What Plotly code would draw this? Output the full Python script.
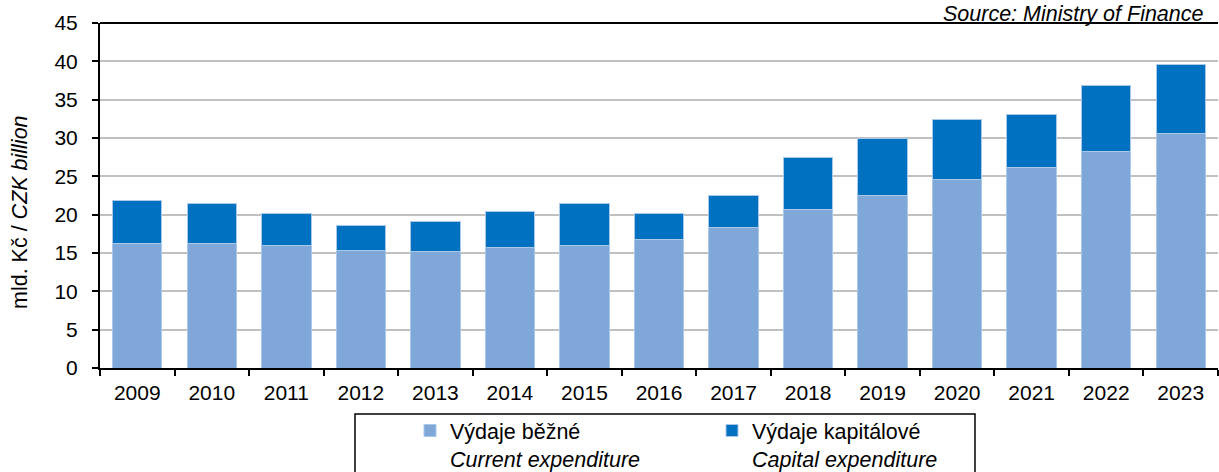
import plotly.graph_objects as go

years = ["2009", "2010", "2011", "2012", "2013", "2014", "2015", "2016",
         "2017", "2018", "2019", "2020", "2021", "2022", "2023"]
current_exp = [16.3, 16.3, 16.0, 15.3, 15.2, 15.7, 16.0, 16.8,
               18.35, 20.7, 22.5, 24.6, 26.2, 28.2, 30.6]
capital_exp = [5.6, 5.2, 4.2, 3.3, 3.9, 4.7, 5.5, 3.4,
               4.15, 6.8, 7.5, 7.8, 6.9, 8.6, 9.05]
y_ticks = [0, 5, 10, 15, 20, 25, 30, 35, 40, 45]

name_current = "Výdaje běžné<br><i>Current expenditure</i>"
name_capital = "Výdaje kapitálové<br><i>Capital expenditure</i>"

FONT = "Liberation Sans, Arial, sans-serif"
TXT = 21.5
TICK = 21

# plot area in pixels: x 100..1218, y 23..368
PL, PR, PT, PB = 100, 1218, 23, 368
def px(x):
    return (x - PL) / (PR - PL)
def py(y):
    return (PB - y) / (PB - PT)

fig = go.Figure()
fig.add_trace(go.Bar(x=years, y=current_exp, name=name_current,
                     marker=dict(color="#7FA7D8", line=dict(color="#A9C8EA", width=1))))
fig.add_trace(go.Bar(x=years, y=capital_exp, name=name_capital,
                     marker=dict(color="#0070C0", line=dict(color="#A9C8EA", width=1))))

fig.update_layout(
    barmode="stack",
    bargap=0.337,
    width=1219, height=472,
    margin=dict(l=PL, r=1219 - PR, t=PT, b=472 - PB, autoexpand=False),
    paper_bgcolor="white", plot_bgcolor="white",
    font=dict(family=FONT, size=TXT, color="black"),
    showlegend=True,
    legend=dict(orientation="h", x=px(410), xanchor="left", y=py(410), yanchor="top",
                bgcolor="rgba(0,0,0,0)", borderwidth=0, entrywidth=257,
                valign="top", font=dict(size=TXT), traceorder="normal",
                itemclick=False),
)
fig.update_xaxes(type="category", showline=True, linecolor="black", linewidth=2,
                 ticks="outside", tickson="boundaries", ticklen=6, tickwidth=2,
                 tickcolor="black", showgrid=False, ticklabelstandoff=5,
                 tickfont=dict(size=TICK), automargin=False)
fig.update_yaxes(range=[0, 45], tickvals=y_ticks, showline=True, linecolor="black",
                 linewidth=2, ticks="outside", ticklen=6, tickwidth=2, tickcolor="black",
                 showgrid=True, gridcolor="#C0C0C0", gridwidth=1.5, zeroline=False,
                 ticklabelstandoff=10, tickfont=dict(size=TICK), automargin=False)

# top border of plot area
fig.add_shape(type="line", xref="paper", yref="paper", x0=0, x1=1, y0=1, y1=1,
              line=dict(color="black", width=2))
# legend frame
fig.add_shape(type="rect", xref="paper", yref="paper",
              x0=px(355), x1=px(975), y0=py(500), y1=py(414),
              line=dict(color="black", width=1.5), fillcolor="rgba(0,0,0,0)")

fig.add_annotation(text="mld. Kč / <i>CZK billion</i>", textangle=-90,
                   xref="paper", yref="paper", x=px(20), y=py(212),
                   xanchor="center", yanchor="middle", showarrow=False,
                   font=dict(size=TXT))
fig.add_annotation(text="<i>Source: Ministry of Finance</i>",
                   xref="paper", yref="paper", x=px(1206), y=py(0),
                   xanchor="right", yanchor="top", showarrow=False,
                   font=dict(size=TXT))

fig.write_html("out.html", config={"displayModeBar": False},
               post_script="document.body.style.margin='0';")
